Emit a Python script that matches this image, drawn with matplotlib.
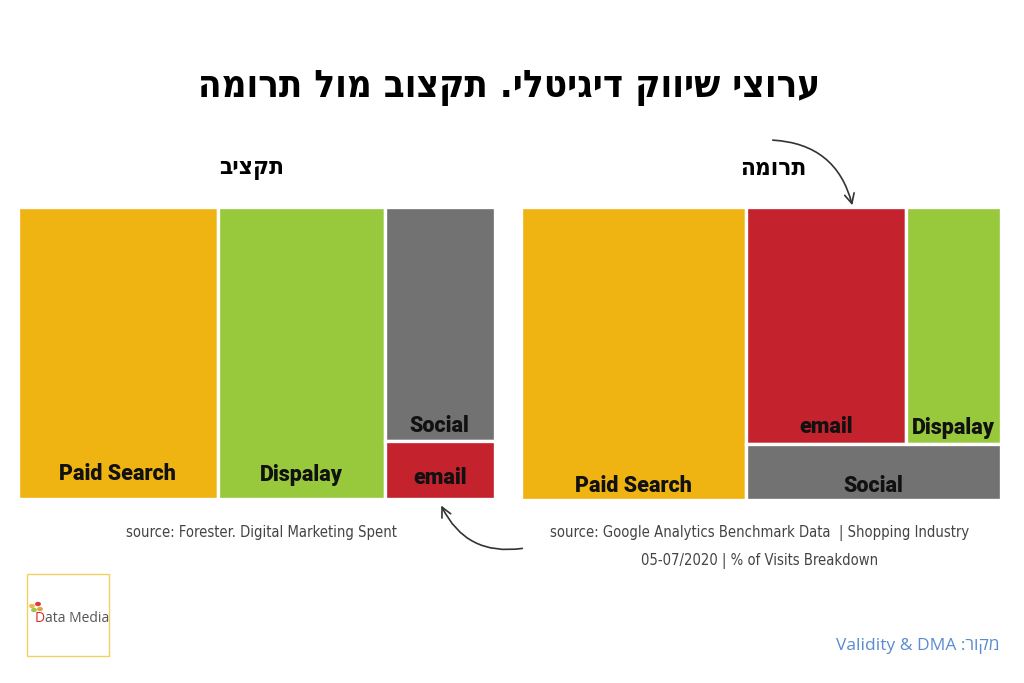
import matplotlib.pyplot as plt
from matplotlib.patches import Rectangle, FancyArrowPatch, Circle

W, H = 1024, 683

# ערוצי שיווק - תקציב מול תרומה (אחוזים, נקראו מהתמונה)
channels = ['Paid Search', 'Dispalay', 'Social', 'email']
budget = [42, 35, 18.5, 4.5]
contribution = [47, 16, 10, 27]

colors = {'Paid Search': '#EFB312', 'Dispalay': '#98C93C',
          'Social': '#727272', 'email': '#C4222D'}

# מבנה ה-treemap: 'h' = זה לצד זה, 'v' = זה מעל זה
budget_tree = ('h', ['Paid Search', 'Dispalay', ('v', ['Social', 'email'])])
contribution_tree = ('h', ['Paid Search', ('v', [('h', ['email', 'Dispalay']), 'Social'])])

# גובה הטקסט מעל תחתית המלבן (פיקסלים)
budget_lift = {'Paid Search': 18, 'Dispalay': 18, 'Social': 9, 'email': 14}
contribution_lift = {'Paid Search': 8, 'Dispalay': 10, 'Social': 8, 'email': 11}


def rtl(s):
    # matplotlib לא מטפל בכיווניות - הופכים את סדר האותיות
    return s[::-1]


def px(x, y):
    return x / W, 1 - y / H


def node_sum(node, vals):
    if isinstance(node, str):
        return vals[node]
    return sum(node_sum(k, vals) for k in node[1])


def layout(node, vals, x, y, w, h, out):
    if isinstance(node, str):
        out.append((node, x, y, w, h))
        return
    d, kids = node
    total = node_sum(node, vals)
    pos = 0
    for k in kids:
        f = node_sum(k, vals) / total
        if d == 'h':
            layout(k, vals, x + pos * w, y, f * w, h, out)
        else:
            layout(k, vals, x, y + pos * h, w, f * h, out)
        pos += f


def treemap(ax, values, tree, lift):
    vals = dict(zip(channels, values))
    rects = []
    layout(tree, vals, 0, 0, 100, 100, rects)
    for name, x, y, w, h in rects:
        ax.add_patch(Rectangle((x, y), w, h, facecolor=colors[name],
                               edgecolor='white', linewidth=2.4, clip_on=False))
        ax.annotate(name, (x + w / 2, y + h), xytext=(0, lift[name] * 0.72),
                    textcoords='offset points', ha='center', va='baseline',
                    fontsize=15.5, fontweight='black', family='Roboto', color='#111111')
    ax.set_xlim(0, 100)
    ax.set_ylim(100, 0)
    ax.axis('off')


fig = plt.figure(figsize=(W / 100, H / 100), dpi=100)

ax1 = fig.add_axes([17.5 / W, 1 - 498.5 / H, 477 / W, 292 / H])
treemap(ax1, budget, budget_tree, budget_lift)
ax2 = fig.add_axes([520.5 / W, 1 - 499.5 / H, 480 / W, 293 / H])
treemap(ax2, contribution, contribution_tree, contribution_lift)

# כותרות
heb = dict(fontweight='bold', fontstretch='condensed', family='DejaVu Sans', color='black')
fig.text(*px(509, 88), rtl('ערוצי שיווק דיגיטלי. תקצוב מול תרומה'), ha='center', va='center',
         fontsize=27.5, **heb)
fig.text(*px(252, 168), rtl('תקציב'), ha='center', va='center', fontsize=17.5, **heb)
fig.text(*px(773, 168), rtl('תרומה'), ha='center', va='center', fontsize=17.5, **heb)

# מקורות
src = dict(ha='center', va='center', fontsize=10.6, family='DejaVu Sans',
           fontstretch='condensed', color='#444444')
fig.text(*px(261, 533), 'source: Forester. Digital Marketing Spent', **src)
fig.text(*px(760, 533), 'source: Google Analytics Benchmark Data  | Shopping Industry', **src)
fig.text(*px(760, 561), '05-07/2020 | % of Visits Breakdown', **src)
fig.text(*px(1000, 646), 'Validity & DMA :' + rtl('מקור'), ha='right', va='center',
         fontsize=12.5, family=['Open Sans', 'DejaVu Sans'], color='#5B8BD0')

# חצים
arrow = dict(transform=fig.transFigure, connectionstyle='arc3,rad=-0.38',
             arrowstyle='->,head_length=7,head_width=3.5', color='#333333', linewidth=1.2)
fig.add_artist(FancyArrowPatch(px(770, 140), px(853, 208), **arrow))
fig.add_artist(FancyArrowPatch(px(525, 548), px(440, 503), **arrow))

# לוגו
fig.add_artist(Rectangle(px(27, 656), 82 / W, 82 / H, transform=fig.transFigure,
                         facecolor='white', edgecolor='#F3CF60', linewidth=1))
for (cx, cy), c in zip([(32, 606), (38, 604), (34, 610), (40, 609)],
                       ['#F2B84B', '#D93B3B', '#9CC94A', '#E9A23B']):
    fig.add_artist(Circle(px(cx, cy), 2.2 / W, transform=fig.transFigure, color=c))
d = fig.text(*px(35, 618), 'D', ha='left', va='center', fontsize=10, color='#D42A2A',
             family='Open Sans')
fig.canvas.draw()
bb = d.get_window_extent()
fig.text(bb.x1 / W, 1 - 618 / H, 'ata Media', ha='left', va='center', fontsize=10,
         color='#555555', family='Open Sans')

fig.savefig('out.png', dpi=100)
